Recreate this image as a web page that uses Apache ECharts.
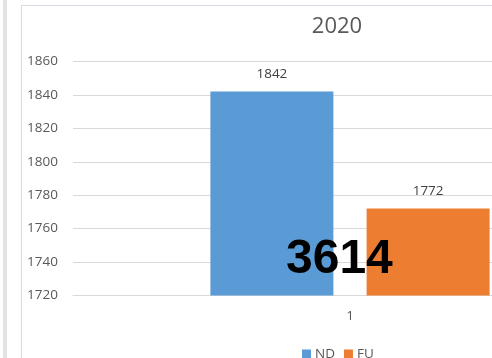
<!DOCTYPE html>
<html>
<head>
<meta charset="utf-8">
<script src="https://cdn.jsdelivr.net/npm/echarts@6/dist/echarts.min.js"></script>
<style>
  html, body { margin: 0; padding: 0; background: #ffffff; overflow: hidden; }
  /* the chart runs on past the right edge of the view */
  #view { width: 492px; height: 358px; overflow: hidden; }
  #chart { width: 640px; height: 358px; }
</style>
</head>
<body>
<div id="view"><div id="chart"></div></div>
<script>
// Chart data
const titleText = '2020';
const categories = ['1'];
const seriesNames = ['ND', 'FU'];
const ndValues = [1842];
const fuValues = [1772];
const yMin = 1720;
const yMax = 1860;
const yStep = 20;

const textColor = '#595959';
const baseFont = 'Open Sans';
const total = ndValues[0] + fuValues[0];

const chart = echarts.init(document.getElementById('chart'), null, { renderer: 'canvas' });

chart.setOption({
  animation: false,
  backgroundColor: '#ffffff',
  title: {
    text: titleText,
    left: 332,
    top: 11,
    textAlign: 'center',
    textStyle: { color: textColor, fontFamily: baseFont, fontSize: 22, fontWeight: 'normal' }
  },
  legend: {
    data: seriesNames,
    left: 297,
    top: 342,
    icon: 'rect',
    itemWidth: 9,
    itemHeight: 9,
    itemGap: 9,
    textStyle: { color: textColor, fontFamily: baseFont, fontSize: 13.5, padding: [0, 0, 0, -1] }
  },
  grid: { left: 73, right: 13, top: 61.5, bottom: 62.5, containLabel: false },
  xAxis: {
    type: 'category',
    data: categories,
    axisLine: { show: true, lineStyle: { color: '#d9d9d9' } },
    axisTick: { show: false },
    axisLabel: { color: textColor, fontFamily: baseFont, fontSize: 13.5, margin: 14 }
  },
  yAxis: {
    type: 'value',
    min: yMin,
    max: yMax,
    interval: yStep,
    axisLine: { show: false },
    axisTick: { show: false },
    splitLine: { lineStyle: { color: '#d9d9d9', width: 1 } },
    axisLabel: {
      color: textColor, fontFamily: baseFont, fontSize: 13.5, margin: 15,
      formatter: (v) => String(v)
    }
  },
  series: [
    {
      name: seriesNames[0],
      type: 'bar',
      data: ndValues,
      barWidth: 123,
      barGap: '27%',
      itemStyle: { color: '#5B9BD5' },
      label: { show: true, position: 'top', distance: 10, color: '#404040', fontFamily: baseFont, fontSize: 13.5 }
    },
    {
      name: seriesNames[1],
      type: 'bar',
      data: fuValues,
      barWidth: 123,
      barGap: '27%',
      itemStyle: { color: '#ED7D31' },
      label: { show: true, position: 'top', distance: 10, color: '#404040', fontFamily: baseFont, fontSize: 13.5 }
    }
  ],
  graphic: [
    // neighbouring panel edge on the far left
    { type: 'rect', shape: { x: 3, y: 0, width: 4, height: 358 }, style: { fill: '#e3e3e3' }, z: 10 },
    // chart area frame
    { type: 'line', shape: { x1: 21.5, y1: 5.5, x2: 21.5, y2: 358 }, style: { stroke: '#d5dbe6', lineWidth: 1 }, z: 10 },
    { type: 'line', shape: { x1: 21.5, y1: 5.5, x2: 640, y2: 5.5 }, style: { stroke: '#d5dbe6', lineWidth: 1 }, z: 10 },
    // total overlay
    {
      type: 'text',
      left: 286,
      top: 236,
      z: 100,
      style: { text: String(total), fill: '#000000', font: 'bold 48px "Liberation Sans", Arial, sans-serif' }
    }
  ]
});
</script>
</body>
</html>
